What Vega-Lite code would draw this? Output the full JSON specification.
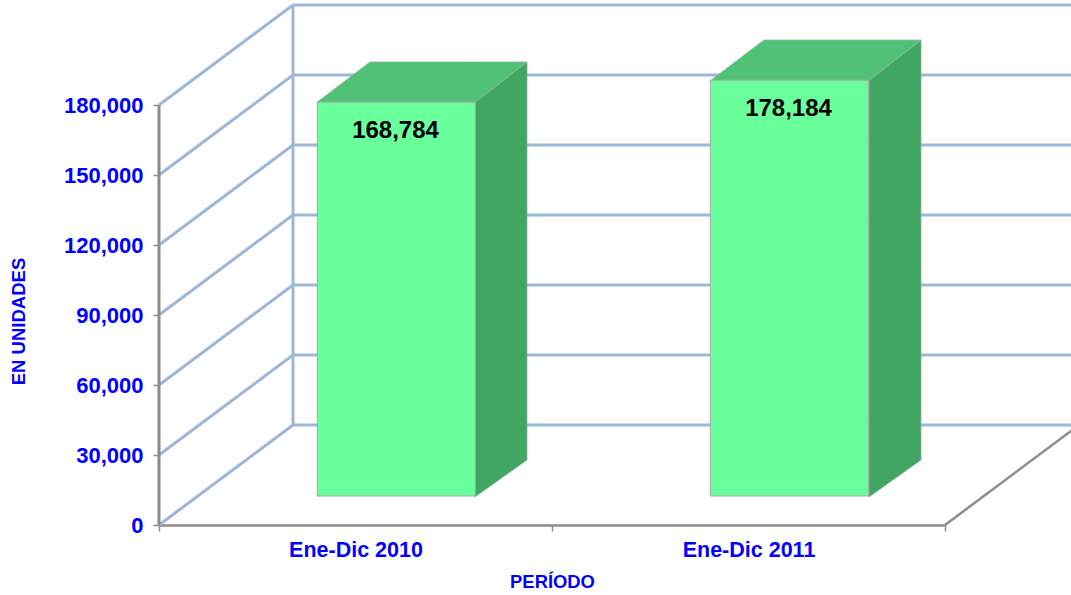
{
 "$schema":"https://vega.github.io/schema/vega-lite/v6.json",
 "autosize":{"type":"none"},
 "padding":{"left":159,"top":0,"right":0,"bottom":70},
 "width":912,"height":525,
 "background":"white",
 "config":{"view":{"stroke":null},"font":"Liberation Sans"},
 "datasets":{
  "periodos":[
   {"periodo":"Ene-Dic 2010","posicion":0.5,"unidades":168784},
   {"periodo":"Ene-Dic 2011","posicion":1.5,"unidades":178184}
  ],
  "marcas":[{"marca":0},{"marca":30000},{"marca":60000},{"marca":90000},{"marca":120000},{"marca":150000},{"marca":180000}],
  "caras":[
   {"periodo":"Ene-Dic 2010","cara":"lateral","px":0.804,"alto":181212,"bajo":12000},
   {"periodo":"Ene-Dic 2010","cara":"lateral","px":0.9364,"alto":198429,"bajo":27857},
   {"periodo":"Ene-Dic 2011","cara":"lateral","px":1.8066,"alto":190612,"bajo":12000},
   {"periodo":"Ene-Dic 2011","cara":"lateral","px":1.939,"alto":207857,"bajo":27857},
   {"periodo":"Ene-Dic 2010","cara":"superior","px":0.402,"alto":181212,"bajo":181212},
   {"periodo":"Ene-Dic 2010","cara":"superior","px":0.5369,"alto":198429,"bajo":181212},
   {"periodo":"Ene-Dic 2010","cara":"superior","px":0.804,"alto":198429,"bajo":181212},
   {"periodo":"Ene-Dic 2010","cara":"superior","px":0.9364,"alto":198429,"bajo":198429},
   {"periodo":"Ene-Dic 2011","cara":"superior","px":1.4046,"alto":190612,"bajo":190612},
   {"periodo":"Ene-Dic 2011","cara":"superior","px":1.5394,"alto":207857,"bajo":190612},
   {"periodo":"Ene-Dic 2011","cara":"superior","px":1.8066,"alto":207857,"bajo":190612},
   {"periodo":"Ene-Dic 2011","cara":"superior","px":1.939,"alto":207857,"bajo":207857}
  ]
 },
 "layer":[
  {"data":{"name":"marcas"},
   "mark":{"type":"rule","color":"#9db7d5","strokeWidth":3,"xOffset":134,"x2Offset":134,"yOffset":-100,"y2Offset":-100},
   "encoding":{
    "x":{"datum":0,"type":"quantitative","scale":{"domain":[0,2],"range":[0,786],"padding":0,"nice":false,"zero":false},
     "axis":{"values":[0,0.5,1,1.5,2],"labelExpr":"datum.value==0.5?'Ene-Dic 2010':(datum.value==1.5?'Ene-Dic 2011':'')","title":"PERÍODO","titleFontSize":18.4,"titleFontWeight":"bold","titleColor":"#0000ff","titleX":393,"titleY":56,"titleBaseline":"middle","labelFontSize":21.5,"labelFontWeight":"bold","labelColor":"#0000ff","labelPadding":8,"labelOverlap":false,"labelFlush":false,"grid":false,"domainColor":"#8c8c8c","domainWidth":2.5,"tickColor":"#8c8c8c","tickWidth":1.5,"tickSize":6,"tickOpacity":{"expr":"datum.value%1==0?1:0"}}},
    "x2":{"datum":2},
    "y":{"field":"marca","type":"quantitative","scale":{"domain":[0,225000],"nice":false},
     "axis":{"values":[0,30000,60000,90000,120000,150000,180000],"labelExpr":"format(datum.value,',')","title":"EN UNIDADES","titleFontSize":18.5,"titleFontWeight":"bold","titleColor":"#0000ff","titleAngle":-90,"titleX":-141,"titleY":321,"titleAlign":"center","titleBaseline":"middle","labelFontSize":22,"labelFontWeight":"bold","labelColor":"#0000ff","labelPadding":10,"grid":false,"domain":false,"tickColor":"#8c8c8c","tickWidth":1.5,"tickSize":6}},
    "y2":{"field":"marca"}
   }},
  {"data":{"values":[{"desde":0,"hasta":180000}]},
   "mark":{"type":"rule","color":"#9db7d5","strokeWidth":3,"xOffset":134,"yOffset":-100,"y2Offset":-100},
   "encoding":{"x":{"datum":0,"type":"quantitative"},"y":{"field":"desde","type":"quantitative"},"y2":{"field":"hasta"}}},
  {"data":{"name":"marcas"},
   "mark":{"type":"rule","color":"#9db7d5","strokeWidth":3,"x2Offset":134,"y2Offset":-100},
   "encoding":{"x":{"datum":0,"type":"quantitative"},"x2":{"datum":0},"y":{"field":"marca","type":"quantitative"},"y2":{"field":"marca"}}},
  {"data":{"values":[{"desde":0,"hasta":180000}]},
   "mark":{"type":"rule","color":"#8c8c8c","strokeWidth":3},
   "encoding":{"x":{"datum":0,"type":"quantitative"},"y":{"field":"desde","type":"quantitative"},"y2":{"field":"hasta"}}},
  {"data":{"values":[{"piso":0}]},
   "mark":{"type":"rule","color":"#8c8c8c","strokeWidth":2.5,"x2Offset":134,"y2Offset":-100},
   "encoding":{"x":{"datum":2,"type":"quantitative"},"x2":{"datum":2},"y":{"field":"piso","type":"quantitative"},"y2":{"field":"piso"}}},
  {"data":{"name":"caras"},
   "mark":{"type":"area","orient":"vertical","stroke":"#8fb59b","strokeWidth":0.8},
   "encoding":{
    "x":{"field":"px","type":"quantitative"},
    "y":{"field":"alto","type":"quantitative"},
    "y2":{"field":"bajo"},
    "detail":{"field":"periodo"},
    "color":{"field":"cara","type":"nominal","scale":{"domain":["lateral","superior"],"range":["#41a564","#4fc278"]},"legend":null}
   }},
  {"data":{"name":"periodos"},
   "mark":{"type":"bar","orient":"vertical","size":158,"color":"#69ff9a","stroke":"#a6a6a6","strokeWidth":1,"xOffset":40.8,"x2Offset":40.8,"yOffset":-29,"y2Offset":-28},
   "encoding":{"x":{"field":"posicion","type":"quantitative"},"y":{"field":"unidades","type":"quantitative"}}},
  {"data":{"name":"periodos"},
   "mark":{"type":"text","fontSize":24,"fontWeight":"bold","color":"#000000","xOffset":40,"yOffset":-0.5,"baseline":"middle"},
   "encoding":{"x":{"field":"posicion","type":"quantitative"},"y":{"field":"unidades","type":"quantitative"},"text":{"field":"unidades","type":"quantitative","format":","}}}
 ]
}
